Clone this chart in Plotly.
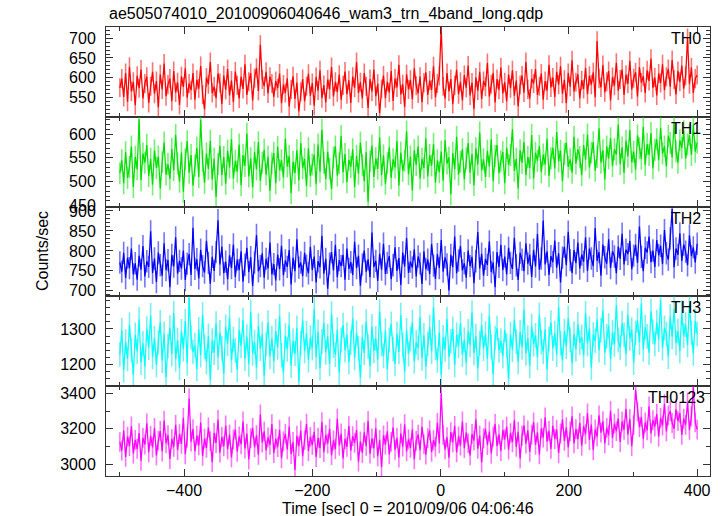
import numpy as np
import plotly.graph_objects as go
from plotly.subplots import make_subplots

TITLE = "ae505074010_20100906040646_wam3_trn_4band_long.qdp"
XTITLE = "Time [sec] 0 = 2010/09/06 04:06:46"
YTITLE = "Counts/sec"
BANDS = ["TH0", "TH1", "TH2", "TH3", "TH0123"]
T_START = -500
T_BIN = 3

TH0 = [575, 598, 552, 612, 540, 628, 566, 590, 531, 605, 574, 621, 548, 586, 603, 537, 579, 615, 560, 592,
       526, 609, 571, 636, 554, 583, 598, 541, 617, 563, 589, 532, 604, 577, 624, 550, 586, 569, 612, 545,
       595, 573, 630, 558, 521, 601, 584, 640, 562, 578, 549, 611, 587, 534, 606, 570, 622, 556, 593, 539,
       616, 581, 548, 603, 572, 634, 557, 590, 612, 543, 599, 625, 567, 683, 596, 579, 615, 561, 603, 586,
       552, 592, 574, 611, 536, 583, 562, 599, 528, 571, 604, 547, 588, 516, 565, 597, 541, 579, 610, 555,
       587, 530, 602, 568, 619, 549, 582, 538, 596, 571, 627, 553, 590, 564, 608, 545, 581, 616, 559, 594,
       537, 603, 575, 640, 562, 589, 548, 612, 579, 524, 597, 566, 621, 554, 585, 511, 572, 606, 549, 590,
       563, 617, 542, 598, 576, 633, 558, 584, 527, 609, 571, 595, 546, 624, 580, 561, 603, 539, 588, 614,
       557, 593, 570, 629, 551, 586, 605, 728, 579, 548, 612, 566, 597, 534, 581, 620, 559, 590, 543, 607,
       575, 631, 556, 588, 522, 601, 568, 615, 547, 592, 578, 637, 553, 584, 612, 538, 597, 570, 626, 561,
       589, 541, 608, 574, 619, 555, 593, 528, 582, 606, 563, 640, 571, 548, 598, 586, 622, 557, 579, 611,
       545, 592, 568, 633, 576, 601, 552, 615, 583, 629, 560, 595, 536, 612, 578, 644, 566, 589, 609, 548,
       594, 572, 625, 559, 605, 583, 614, 551, 693, 598, 576, 632, 564, 590, 617, 543, 602, 580, 638, 568,
       596, 621, 557, 608, 585, 643, 571, 599, 614, 553, 627, 588, 604, 562, 619, 592, 648, 575, 601, 556,
       611, 587, 634, 569, 603, 622, 578, 645, 596, 558, 617, 590, 631, 573, 605, 700, 584, 626, 562, 598, 607]

TH1 = [518, 545, 497, 562, 508, 531, 574, 489, 552, 526, 631, 503, 559, 540, 577, 512, 548, 494, 566, 529,
       553, 486, 541, 582, 515, 537, 506, 569, 524, 598, 538, 500, 561, 479, 547, 585, 519, 556, 492, 534,
       571, 510, 630, 543, 498, 559, 527, 586, 505, 548, 468, 537, 575, 514, 552, 496, 565, 530, 589, 507,
       544, 521, 578, 493, 556, 533, 601, 511, 549, 488, 562, 526, 583, 502, 540, 567, 515, 553, 481, 538,
       560, 497, 573, 524, 545, 509, 590, 532, 554, 476, 542, 518, 566, 503, 581, 529, 548, 491, 570, 512,
       536, 557, 495, 578, 521, 609, 540, 506, 563, 527, 485, 551, 574, 513, 539, 596, 520, 558, 499, 546,
       531, 568, 489, 554, 517, 582, 535, 501, 562, 458, 543, 576, 510, 549, 527, 593, 514, 555, 496, 539,
       572, 508, 547, 530, 586, 492, 561, 523, 544, 605, 516, 553, 482, 566, 535, 574, 507, 548, 529, 591,
       511, 556, 534, 579, 498, 545, 520, 563, 502, 587, 538, 551, 474, 560, 527, 594, 515, 542, 568, 505,
       549, 581, 519, 558, 493, 570, 536, 603, 524, 547, 510, 565, 532, 589, 501, 554, 577, 518, 543, 562,
       497, 571, 535, 556, 610, 523, 548, 486, 566, 540, 583, 514, 552, 529, 598, 507, 561, 544, 575, 520,
       557, 536, 590, 512, 549, 571, 528, 604, 543, 565, 501, 558, 582, 531, 547, 519, 594, 538, 568, 552,
       514, 577, 546, 599, 530, 561, 583, 523, 552, 612, 540, 566, 505, 574, 549, 591, 533, 568, 557, 620,
       537, 572, 519, 586, 553, 608, 541, 563, 526, 597, 570, 548, 615, 535, 579, 556, 602, 528, 567, 589,
       545, 613, 559, 574, 532, 596, 581, 551, 623, 564, 540, 587, 571, 606, 549, 578, 598, 556, 619, 563, 582]

TH2 = [771, 748, 795, 732, 783, 757, 806, 741, 769, 728, 788, 753, 812, 736, 774, 760, 849, 745, 781, 722,
       796, 764, 738, 819, 752, 777, 709, 790, 761, 834, 743, 775, 756, 801, 727, 768, 792, 740, 858, 755,
       779, 731, 803, 762, 746, 825, 770, 718, 785, 750, 797, 877, 766, 811, 744, 773, 729, 789, 757, 816,
       735, 778, 752, 799, 723, 765, 808, 747, 784, 712, 771, 840, 749, 762, 794, 733, 780, 756, 821, 741,
       767, 726, 791, 754, 813, 739, 776, 760, 802, 716, 783, 749, 829, 758, 771, 737, 795, 763, 744, 810,
       752, 786, 721, 774, 759, 838, 743, 780, 705, 768, 797, 751, 815, 734, 777, 762, 790, 728, 806, 755,
       772, 740, 823, 757, 788, 713, 766, 801, 748, 779, 734, 846, 760, 775, 725, 793, 753, 818, 742, 770,
       787, 729, 764, 809, 750, 782, 715, 796, 761, 832, 745, 773, 758, 804, 736, 786, 768, 717, 799, 754,
       778, 742, 817, 763, 730, 792, 757, 827, 748, 784, 766, 701, 790, 759, 836, 744, 776, 812, 751, 769,
       733, 801, 762, 785, 719, 774, 847, 756, 793, 738, 780, 765, 824, 747, 771, 709, 797, 760, 815, 752,
       786, 741, 808, 770, 755, 833, 764, 727, 795, 778, 749, 819, 768, 790, 735, 803, 761, 842, 753, 781,
       876, 766, 799, 740, 787, 772, 826, 758, 794, 721, 783, 810, 764, 848, 777, 745, 802, 769, 821, 756,
       791, 773, 834, 750, 806, 781, 762, 857, 775, 797, 738, 816, 784, 768, 829, 757, 799, 786, 744, 811,
       780, 843, 766, 803, 792, 825, 754, 788, 815, 770, 861, 785, 749, 808, 796, 836, 772, 801, 760, 827,
       789, 813, 767, 852, 794, 778, 831, 905, 759, 806, 790, 844, 775, 816, 798, 764, 839, 787, 809, 771, 818]

TH3 = [1228, 1296, 1183, 1264, 1215, 1312, 1241, 1170, 1283, 1236, 1327, 1205, 1259, 1193, 1301, 1247, 1338, 1221, 1274, 1198,
       1262, 1319, 1210, 1286, 1163, 1251, 1304, 1229, 1345, 1214, 1268, 1190, 1293, 1243, 1322, 1203, 1388, 1276, 1235, 1254,
       1187, 1299, 1226, 1341, 1249, 1207, 1280, 1156, 1267, 1233, 1315, 1219, 1290, 1245, 1173, 1306, 1258, 1332, 1211, 1271,
       1239, 1184, 1297, 1252, 1325, 1216, 1278, 1200, 1348, 1231, 1263, 1191, 1309, 1244, 1285, 1166, 1256, 1318, 1222, 1273,
       1209, 1294, 1248, 1336, 1225, 1177, 1281, 1242, 1312, 1196, 1266, 1230, 1303, 1150, 1259, 1324, 1237, 1288, 1212, 1275,
       1246, 1357, 1220, 1292, 1189, 1265, 1317, 1234, 1279, 1201, 1343, 1253, 1227, 1298, 1176, 1269, 1311, 1240, 1284, 1206,
       1261, 1330, 1218, 1289, 1245, 1162, 1277, 1232, 1321, 1250, 1195, 1307, 1238, 1273, 1213, 1349, 1257, 1224, 1295, 1186,
       1268, 1314, 1243, 1201, 1286, 1235, 1339, 1254, 1180, 1296, 1229, 1271, 1319, 1208, 1262, 1246, 1333, 1217, 1282, 1193,
       1258, 1305, 1236, 1361, 1247, 1211, 1290, 1169, 1276, 1242, 1328, 1220, 1265, 1300, 1198, 1283, 1251, 1316, 1227, 1270,
       1204, 1293, 1255, 1346, 1232, 1279, 1188, 1260, 1310, 1244, 1287, 1215, 1337, 1249, 1172, 1274, 1302, 1239, 1266, 1223,
       1297, 1253, 1158, 1285, 1241, 1326, 1264, 1207, 1291, 1248, 1354, 1231, 1275, 1196, 1308, 1257, 1282, 1219, 1340, 1263,
       1236, 1299, 1185, 1272, 1318, 1245, 1288, 1227, 1362, 1259, 1211, 1294, 1250, 1331, 1270, 1203, 1286, 1243, 1313, 1261,
       1277, 1225, 1344, 1258, 1301, 1190, 1284, 1266, 1327, 1240, 1296, 1352, 1233, 1279, 1309, 1214, 1290, 1256, 1367, 1268,
       1247, 1316, 1283, 1229, 1340, 1273, 1298, 1205, 1288, 1324, 1261, 1372, 1242, 1305, 1279, 1233, 1350, 1292, 1257, 1319,
       1270, 1381, 1246, 1303, 1285, 1222, 1335, 1277, 1358, 1260, 1294, 1238, 1346, 1281, 1312, 1255, 1369, 1289, 1231, 1323, 1286]

TH0123 = [3125, 3078, 3190, 3042, 3156, 3103, 3214, 3061, 3138, 3087, 3176, 3020, 3149, 3112, 3231, 3068, 3160, 3095, 3205, 3050,
          3134, 3188, 3072, 3247, 3119, 3165, 3030, 3142, 3099, 3223, 3081, 3170, 3115, 3262, 3057, 3151, 3372, 3128, 3199, 3074,
          3162, 3107, 3236, 3048, 3145, 3093, 3208, 3130, 3012, 3177, 3120, 3251, 3066, 3154, 3102, 3219, 3085, 3168, 3039, 3140,
          3196, 3071, 3158, 3113, 3242, 3089, 3173, 3027, 3147, 3206, 3096, 3164, 3054, 3281, 3123, 3186, 3079, 3152, 3110, 3227,
          3063, 3144, 3097, 3195, 3035, 3131, 3172, 3084, 3213, 3058, 3126, 2968, 3161, 3101, 3190, 3046, 3137, 3229, 3075, 3155,
          3108, 3183, 3041, 3149, 3092, 3238, 3069, 3166, 3117, 3201, 3052, 3135, 3086, 3257, 3106, 3174, 3033, 3143, 3098, 3216,
          3077, 3159, 3121, 3193, 3015, 3129, 3064, 3180, 3104, 3245, 3060, 3146, 3090, 3204, 3045, 3138, 2985, 3163, 3111, 3186,
          3056, 3127, 3209, 3082, 3150, 3038, 3175, 3100, 3226, 3073, 3141, 3093, 3197, 3029, 3132, 3168, 3080, 3211, 3114, 3055,
          3148, 3191, 3070, 3136, 3099, 3234, 3118, 3401, 3165, 3084, 3153, 3037, 3182, 3124, 3217, 3067, 3158, 3106, 3242, 3091,
          3179, 3120, 3051, 3171, 3134, 3254, 3088, 3162, 3010, 3147, 3200, 3109, 3185, 3061, 3157, 3228, 3102, 3169, 3075, 3194,
          3140, 3212, 3083, 3176, 3125, 3248, 3098, 3183, 3033, 3161, 3220, 3117, 3192, 3070, 3167, 3237, 3110, 3180, 3056, 3203,
          3151, 3265, 3128, 3189, 3087, 3218, 3143, 3196, 3064, 3174, 3252, 3132, 3209, 3096, 3186, 3271, 3119, 3199, 3142, 3233,
          3105, 3215, 3170, 3288, 3137, 3224, 3081, 3197, 3156, 3276, 3179, 3243, 3118, 3206, 3164, 3301, 3148, 3230, 3187, 3259,
          3126, 3241, 3195, 3314, 3168, 3255, 3103, 3222, 3420, 3297, 3210, 3268, 3145, 3236, 3192, 3327, 3174, 3249, 3213, 3284,
          3157, 3262, 3219, 3341, 3186, 3275, 3300, 3233, 3201, 3310, 3244, 3289, 3166, 3258, 3223, 3349, 3194, 3271, 3435, 3237, 3196]

SERIES = [TH0, TH1, TH2, TH3, TH0123]
ERRORS = [24, 23, 28, 35, 56]
COLORS = ["#ff0000", "#00e000", "#0000ff", "#00ffff", "#ff00ff"]
ERRCOLORS = ["rgba(255,0,0,0.55)", "rgba(0,230,0,0.55)", "rgba(0,0,255,0.55)",
             "rgba(0,230,230,0.55)", "rgba(255,0,255,0.55)"]
YRANGES = [[502, 728], [448, 636], [686, 911], [1138, 1392], [2934, 3441]]
YDTICK = [50, 50, 50, 100, 200]
YMINOR = [10, 10, 10, 20, 100]
XRANGE = [-521.6, 420]
XTICKS = [-400, -200, 0, 200, 400]

W, H = 722, 516
L, R, T, B = 106, 12, 27, 40
PH = H - T - B

fig = make_subplots(rows=5, cols=1, shared_xaxes=True, vertical_spacing=0)

for i, (y, err, c, ec) in enumerate(zip(SERIES, ERRORS, COLORS, ERRCOLORS)):
    x = T_START + T_BIN * np.arange(len(y))
    fig.add_trace(go.Scatter(
        x=x, y=y, mode="lines",
        line=dict(color=c, width=1.25),
        error_y=dict(type="constant", value=err, color=ec, thickness=1.6, width=0),
        showlegend=False, hoverinfo="skip"), row=i + 1, col=1)

axis_common = dict(showline=True, linecolor="#333333", linewidth=1, mirror="allticks",
                   ticks="inside", tickcolor="#333333", tickwidth=1, ticklen=7,
                   showgrid=False, zeroline=False,
                   tickfont=dict(family="Liberation Sans, Arial, sans-serif", size=16, color="black"))

for i in range(5):
    fig.update_xaxes(range=XRANGE, tickvals=XTICKS,
                     minor=dict(dtick=100, tick0=0, ticks="inside", ticklen=4, tickcolor="#333333"),
                     showticklabels=(i == 4), ticklabelstandoff=0,
                     row=i + 1, col=1, **axis_common)
    fig.update_yaxes(range=YRANGES[i], dtick=YDTICK[i], tick0=0,
                     minor=dict(dtick=YMINOR[i], tick0=0, ticks="inside", ticklen=4, tickcolor="#333333"),
                     ticklabelstandoff=6,
                     row=i + 1, col=1, **axis_common)

def px_to_paper_y(py):
    return (H - B - py) / PH

def px_to_paper_x(px):
    return (px - L) / (W - L - R)

font = dict(family="Liberation Sans, Arial, sans-serif", size=16, color="black")
annotations = [
    dict(text=TITLE, x=px_to_paper_x(107), y=px_to_paper_y(14), xref="paper", yref="paper",
         xanchor="left", yanchor="middle", showarrow=False, font=font),
    dict(text=XTITLE, x=px_to_paper_x(408), y=px_to_paper_y(508), xref="paper", yref="paper",
         xanchor="center", yanchor="middle", showarrow=False, font=font),
    dict(text=YTITLE, x=px_to_paper_x(42), y=px_to_paper_y(251), xref="paper", yref="paper",
         xanchor="center", yanchor="middle", textangle=-90, showarrow=False, font=font),
]
panel_top = [T + i * PH / 5 for i in range(5)]
label_right = [703, 703, 703, 703, 707]
for i, name in enumerate(BANDS):
    annotations.append(dict(text=name, x=px_to_paper_x(label_right[i]), y=px_to_paper_y(panel_top[i] + 11.5),
                            xref="paper", yref="paper", xanchor="right", yanchor="middle",
                            showarrow=False, font=font))

fig.update_layout(width=W, height=H, margin=dict(l=L, r=R, t=T, b=B),
                  paper_bgcolor="white", plot_bgcolor="white",
                  annotations=annotations)

fig.write_html("out.html", config={"displayModeBar": False},
               post_script="document.body.style.margin='0';document.body.style.padding='0';")
